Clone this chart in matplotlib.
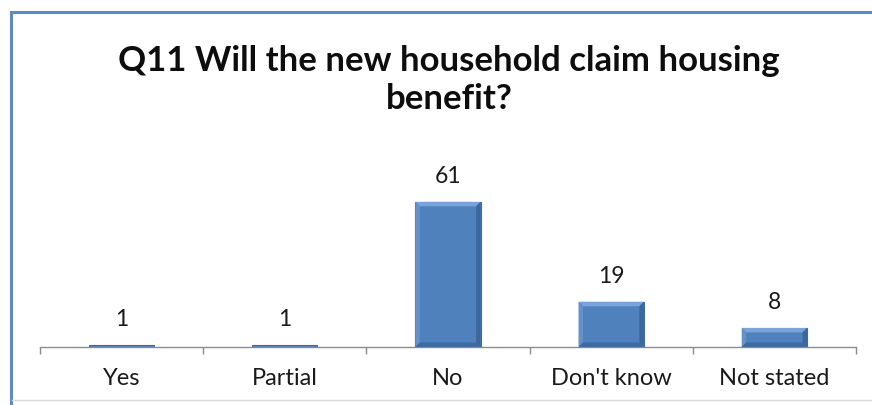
import numpy as np
import matplotlib
matplotlib.use("Agg")
import matplotlib.pyplot as plt
from matplotlib.patches import Rectangle, Polygon
from matplotlib.lines import Line2D

# Survey responses for Q11
categories = ["Yes", "Partial", "No", "Don't know", "Not stated"]
counts = [1, 1, 61, 19, 8]
title = "Q11 Will the new household claim housing\nbenefit?"

W, H = 872, 405
fig = plt.figure(figsize=(W / 100, H / 100), dpi=100)
fig.patch.set_facecolor("white")

# chart frame (runs off the right and bottom of the canvas)
frame = Rectangle((11 / W, 0 - 0.02), 1.05, (H - 12) / H + 0.02,
                  transform=fig.transFigure, fill=False,
                  edgecolor="#5b8bc8", linewidth=2.2, zorder=0)
fig.patches.append(frame)
fig.add_artist(Line2D([12 / W, 1.0], [1 - 400 / H] * 2, transform=fig.transFigure,
                      color="#d9d9d9", linewidth=1))

ax = fig.add_axes([40 / W, 58 / H, 816 / W, 166.6 / H])
x = np.arange(len(categories))
bars = ax.bar(x, counts, width=0.4, color="#4f81bd", edgecolor="#3d6ca3",
              linewidth=0.8, zorder=2)

# bevel shading on each bar
px_x = 816 / 5   # pixels per category
px_y = 166.6 / 70
bx, by = 4.5 / px_x, 4.5 / px_y
for b in bars:
    x0, y0 = b.get_x(), b.get_y()
    x1, y1 = x0 + b.get_width(), y0 + b.get_height()
    if b.get_height() < 3:
        continue
    faces = [
        ([(x0, y1), (x1, y1), (x1 - bx, y1 - by), (x0 + bx, y1 - by)], "#7aa4d9"),
        ([(x0, y0), (x0 + bx, y0 + by), (x0 + bx, y1 - by), (x0, y1)], "#6690c8"),
        ([(x1, y0), (x1, y1), (x1 - bx, y1 - by), (x1 - bx, y0 + by)], "#3c679c"),
        ([(x0, y0), (x1, y0), (x1 - bx, y0 + by), (x0 + bx, y0 + by)], "#3f6ba2"),
    ]
    for pts, c in faces:
        ax.add_patch(Polygon(pts, closed=True, facecolor=c, edgecolor="none", zorder=3))

for xi, v in zip(x, counts):
    ax.annotate(str(v), (xi, v), xytext=(0, 18), textcoords="offset points",
                ha="center", va="center", fontsize=16.5, family="Lato", color="#1a1a1a")

ax.set_xlim(-0.5, len(categories) - 0.5)
ax.set_ylim(0, 70)
ax.set_yticks([])
for s in ["left", "right", "top"]:
    ax.spines[s].set_visible(False)
ax.spines["bottom"].set_color("#8c8c8c")
ax.spines["bottom"].set_linewidth(1)
ax.set_xticks(x)
ax.set_xticklabels(categories, fontsize=17, family="Lato", color="#1a1a1a")
ax.set_xticks(np.arange(-0.5, len(categories)), minor=True)
ax.tick_params(axis="x", which="major", length=0, pad=15)
ax.tick_params(axis="x", which="minor", length=5, color="#8c8c8c", width=1)
ax.patch.set_alpha(0)

fig.text(449 / W, 1 - 80 / H, title, ha="center", va="center", fontsize=25,
         fontweight="bold", family="Lato", linespacing=1.25, color="#0d0d0d")

fig.savefig("out.png", dpi=100)
